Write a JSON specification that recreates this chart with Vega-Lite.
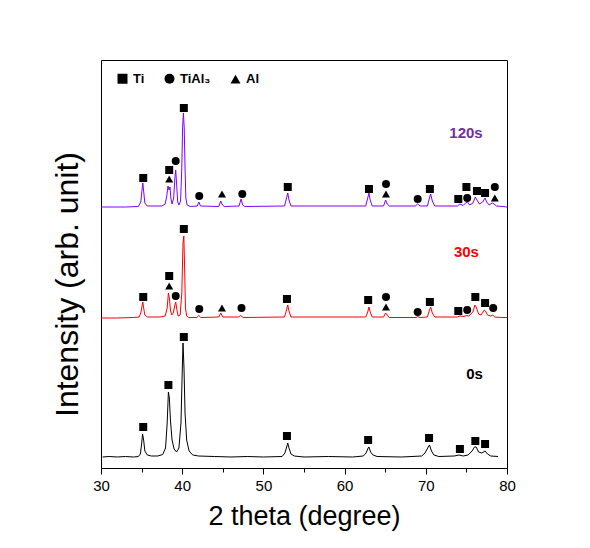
{
  "$schema": "https://vega.github.io/schema/vega-lite/v6.json",
  "width": 406,
  "height": 408,
  "autosize": {"type": "none"},
  "padding": {"left": 101, "top": 60, "right": 83, "bottom": 80},
  "background": "white",
  "config": {
    "font": "Liberation Sans",
    "view": {"stroke": "black", "strokeWidth": 1}
  },
  "datasets": {
    "traces": [
      {"s":"0s","x":30.2,"y":11},{"s":"0s","x":31,"y":11.5},{"s":"0s","x":32,"y":11},{"s":"0s","x":33,"y":11.5},{"s":"0s","x":34,"y":11},{"s":"0s","x":34.6,"y":11.5},{"s":"0s","x":34.85,"y":14},{"s":"0s","x":35.0,"y":24},{"s":"0s","x":35.12,"y":34},{"s":"0s","x":35.25,"y":28},{"s":"0s","x":35.4,"y":17},{"s":"0s","x":35.7,"y":13},{"s":"0s","x":36.2,"y":12},{"s":"0s","x":37,"y":12},{"s":"0s","x":37.6,"y":13.5},{"s":"0s","x":37.95,"y":20},{"s":"0s","x":38.15,"y":45},{"s":"0s","x":38.3,"y":76},{"s":"0s","x":38.42,"y":70},{"s":"0s","x":38.55,"y":48},{"s":"0s","x":38.75,"y":28},{"s":"0s","x":39.0,"y":19},{"s":"0s","x":39.3,"y":16},{"s":"0s","x":39.6,"y":20},{"s":"0s","x":39.85,"y":45},{"s":"0s","x":40.0,"y":95},{"s":"0s","x":40.1,"y":125},{"s":"0s","x":40.22,"y":100},{"s":"0s","x":40.35,"y":55},{"s":"0s","x":40.55,"y":28},{"s":"0s","x":40.85,"y":17},{"s":"0s","x":41.3,"y":13},{"s":"0s","x":42,"y":12},{"s":"0s","x":44,"y":11.5},{"s":"0s","x":46,"y":11},{"s":"0s","x":48,"y":11.5},{"s":"0s","x":50,"y":11},{"s":"0s","x":52.3,"y":11.5},{"s":"0s","x":52.65,"y":15},{"s":"0s","x":52.9,"y":22},{"s":"0s","x":53.0,"y":25},{"s":"0s","x":53.15,"y":20},{"s":"0s","x":53.4,"y":14},{"s":"0s","x":53.8,"y":12},{"s":"0s","x":55,"y":11},{"s":"0s","x":58,"y":11.5},{"s":"0s","x":61,"y":11},{"s":"0s","x":62.3,"y":12},{"s":"0s","x":62.65,"y":15},{"s":"0s","x":62.9,"y":20},{"s":"0s","x":63.0,"y":21},{"s":"0s","x":63.2,"y":16},{"s":"0s","x":63.5,"y":13},{"s":"0s","x":64,"y":11.5},{"s":"0s","x":67,"y":11},{"s":"0s","x":69.5,"y":12},{"s":"0s","x":69.9,"y":15},{"s":"0s","x":70.3,"y":21},{"s":"0s","x":70.45,"y":23},{"s":"0s","x":70.7,"y":17},{"s":"0s","x":71.0,"y":13},{"s":"0s","x":71.6,"y":11.5},{"s":"0s","x":73.5,"y":12},{"s":"0s","x":74.1,"y":13},{"s":"0s","x":74.6,"y":12},{"s":"0s","x":75.2,"y":13},{"s":"0s","x":75.7,"y":17},{"s":"0s","x":76.0,"y":21},{"s":"0s","x":76.2,"y":21},{"s":"0s","x":76.5,"y":16},{"s":"0s","x":76.9,"y":15},{"s":"0s","x":77.3,"y":17},{"s":"0s","x":77.6,"y":14},{"s":"0s","x":78.0,"y":12},{"s":"0s","x":78.9,"y":11.5},
      {"s":"30s","x":30,"y":150},{"s":"30s","x":32,"y":150},{"s":"30s","x":34.0,"y":150.5},{"s":"30s","x":34.7,"y":151},{"s":"30s","x":34.9,"y":155},{"s":"30s","x":35.05,"y":162},{"s":"30s","x":35.15,"y":166},{"s":"30s","x":35.25,"y":160},{"s":"30s","x":35.4,"y":153},{"s":"30s","x":35.7,"y":151},{"s":"30s","x":37.3,"y":151},{"s":"30s","x":37.9,"y":152},{"s":"30s","x":38.15,"y":160},{"s":"30s","x":38.3,"y":175},{"s":"30s","x":38.42,"y":170},{"s":"30s","x":38.55,"y":158},{"s":"30s","x":38.7,"y":153},{"s":"30s","x":38.9,"y":155},{"s":"30s","x":39.1,"y":163},{"s":"30s","x":39.2,"y":166},{"s":"30s","x":39.35,"y":158},{"s":"30s","x":39.5,"y":152},{"s":"30s","x":39.75,"y":153},{"s":"30s","x":39.95,"y":175},{"s":"30s","x":40.1,"y":225},{"s":"30s","x":40.2,"y":232},{"s":"30s","x":40.3,"y":200},{"s":"30s","x":40.4,"y":160},{"s":"30s","x":40.55,"y":152},{"s":"30s","x":40.8,"y":150.5},{"s":"30s","x":41.8,"y":150.5},{"s":"30s","x":42.05,"y":152.5},{"s":"30s","x":42.3,"y":150.5},{"s":"30s","x":44.5,"y":151},{"s":"30s","x":44.75,"y":155},{"s":"30s","x":45.0,"y":151},{"s":"30s","x":46.9,"y":151},{"s":"30s","x":47.2,"y":152.5},{"s":"30s","x":47.5,"y":150.5},{"s":"30s","x":52.6,"y":151},{"s":"30s","x":52.85,"y":158},{"s":"30s","x":53.0,"y":163},{"s":"30s","x":53.15,"y":157},{"s":"30s","x":53.4,"y":151},{"s":"30s","x":62.6,"y":151},{"s":"30s","x":62.85,"y":156},{"s":"30s","x":63.0,"y":161},{"s":"30s","x":63.15,"y":156},{"s":"30s","x":63.4,"y":151},{"s":"30s","x":64.8,"y":151},{"s":"30s","x":65.05,"y":155},{"s":"30s","x":65.25,"y":153},{"s":"30s","x":65.5,"y":150.5},{"s":"30s","x":68.8,"y":150.5},{"s":"30s","x":69.0,"y":151.5},{"s":"30s","x":69.3,"y":150.5},{"s":"30s","x":70.2,"y":151},{"s":"30s","x":70.45,"y":158},{"s":"30s","x":70.6,"y":161},{"s":"30s","x":70.8,"y":155},{"s":"30s","x":71.1,"y":151},{"s":"30s","x":73.9,"y":151},{"s":"30s","x":74.2,"y":152},{"s":"30s","x":74.7,"y":151.5},{"s":"30s","x":75.0,"y":152.5},{"s":"30s","x":75.3,"y":152},{"s":"30s","x":75.8,"y":156},{"s":"30s","x":76.05,"y":163},{"s":"30s","x":76.2,"y":161},{"s":"30s","x":76.5,"y":154},{"s":"30s","x":76.8,"y":153},{"s":"30s","x":77.2,"y":158},{"s":"30s","x":77.35,"y":157},{"s":"30s","x":77.6,"y":153},{"s":"30s","x":78.0,"y":152},{"s":"30s","x":78.25,"y":153},{"s":"30s","x":78.5,"y":151},{"s":"30s","x":79.2,"y":150.5},{"s":"30s","x":80,"y":150.5},
      {"s":"120s","x":30,"y":261},{"s":"120s","x":33,"y":261},{"s":"120s","x":34.6,"y":261.5},{"s":"120s","x":34.9,"y":266},{"s":"120s","x":35.05,"y":278},{"s":"120s","x":35.15,"y":285},{"s":"120s","x":35.25,"y":277},{"s":"120s","x":35.4,"y":265},{"s":"120s","x":35.7,"y":262},{"s":"120s","x":37.5,"y":262},{"s":"120s","x":37.9,"y":264},{"s":"120s","x":38.1,"y":272},{"s":"120s","x":38.25,"y":282},{"s":"120s","x":38.38,"y":278},{"s":"120s","x":38.5,"y":281},{"s":"120s","x":38.6,"y":270},{"s":"120s","x":38.75,"y":264},{"s":"120s","x":38.95,"y":270},{"s":"120s","x":39.1,"y":290},{"s":"120s","x":39.2,"y":298},{"s":"120s","x":39.3,"y":285},{"s":"120s","x":39.45,"y":266},{"s":"120s","x":39.6,"y":263},{"s":"120s","x":39.8,"y":267},{"s":"120s","x":39.95,"y":300},{"s":"120s","x":40.05,"y":340},{"s":"120s","x":40.15,"y":355},{"s":"120s","x":40.25,"y":340},{"s":"120s","x":40.35,"y":300},{"s":"120s","x":40.45,"y":270},{"s":"120s","x":40.6,"y":263},{"s":"120s","x":41.0,"y":261.5},{"s":"120s","x":41.85,"y":262},{"s":"120s","x":42.05,"y":266},{"s":"120s","x":42.25,"y":262},{"s":"120s","x":44.5,"y":261.5},{"s":"120s","x":44.75,"y":267},{"s":"120s","x":44.95,"y":263},{"s":"120s","x":45.2,"y":261.5},{"s":"120s","x":47.0,"y":262},{"s":"120s","x":47.25,"y":269},{"s":"120s","x":47.45,"y":263},{"s":"120s","x":47.7,"y":261.5},{"s":"120s","x":52.6,"y":262},{"s":"120s","x":52.85,"y":270},{"s":"120s","x":53.0,"y":275},{"s":"120s","x":53.15,"y":268},{"s":"120s","x":53.4,"y":262},{"s":"120s","x":62.6,"y":262},{"s":"120s","x":62.85,"y":270},{"s":"120s","x":63.0,"y":275},{"s":"120s","x":63.15,"y":268},{"s":"120s","x":63.4,"y":262},{"s":"120s","x":64.8,"y":262},{"s":"120s","x":65.05,"y":268},{"s":"120s","x":65.25,"y":264},{"s":"120s","x":65.5,"y":262},{"s":"120s","x":68.7,"y":262},{"s":"120s","x":69.0,"y":264},{"s":"120s","x":69.3,"y":262},{"s":"120s","x":70.2,"y":262},{"s":"120s","x":70.45,"y":270},{"s":"120s","x":70.6,"y":274},{"s":"120s","x":70.8,"y":267},{"s":"120s","x":71.1,"y":262},{"s":"120s","x":73.9,"y":262},{"s":"120s","x":74.2,"y":264},{"s":"120s","x":74.6,"y":262.5},{"s":"120s","x":74.9,"y":265},{"s":"120s","x":75.15,"y":266},{"s":"120s","x":75.4,"y":263},{"s":"120s","x":75.8,"y":265},{"s":"120s","x":76.1,"y":271},{"s":"120s","x":76.3,"y":268},{"s":"120s","x":76.6,"y":264},{"s":"120s","x":77.0,"y":266},{"s":"120s","x":77.3,"y":270},{"s":"120s","x":77.5,"y":266},{"s":"120s","x":77.8,"y":263},{"s":"120s","x":78.2,"y":265},{"s":"120s","x":78.4,"y":264},{"s":"120s","x":78.7,"y":262},{"s":"120s","x":79.5,"y":261.5},{"s":"120s","x":80,"y":261}
    ],
    "markers": [
      {"phase":"Ti","x":35.2,"y":290},{"phase":"Ti","x":38.4,"y":298},{"phase":"Al","x":38.4,"y":289},{"phase":"TiAl₃","x":39.2,"y":307},{"phase":"Ti","x":40.2,"y":360},{"phase":"TiAl₃","x":42.1,"y":272},{"phase":"Al","x":44.9,"y":274},{"phase":"TiAl₃","x":47.4,"y":274},{"phase":"Ti","x":53.0,"y":281},{"phase":"Ti","x":63.0,"y":279},{"phase":"TiAl₃","x":65.1,"y":284},{"phase":"Al","x":65.1,"y":274},{"phase":"TiAl₃","x":69.0,"y":269},{"phase":"Ti","x":70.5,"y":279},{"phase":"Ti","x":74.0,"y":269},{"phase":"TiAl₃","x":75.1,"y":270},{"phase":"Ti","x":75.0,"y":281},{"phase":"Ti","x":76.3,"y":277},{"phase":"Ti","x":77.3,"y":275},{"phase":"TiAl₃","x":78.5,"y":281},{"phase":"Al","x":78.5,"y":270},
      {"phase":"Ti","x":35.2,"y":171},{"phase":"Ti","x":38.4,"y":192},{"phase":"Al","x":38.4,"y":182},{"phase":"TiAl₃","x":39.2,"y":172},{"phase":"Ti","x":40.2,"y":239},{"phase":"TiAl₃","x":42.1,"y":159},{"phase":"Al","x":44.9,"y":160},{"phase":"TiAl₃","x":47.3,"y":160},{"phase":"Ti","x":52.9,"y":169},{"phase":"Ti","x":62.9,"y":168},{"phase":"TiAl₃","x":65.1,"y":171},{"phase":"Al","x":65.1,"y":161},{"phase":"TiAl₃","x":69.0,"y":156},{"phase":"Ti","x":70.5,"y":166},{"phase":"Ti","x":74.0,"y":157},{"phase":"TiAl₃","x":75.1,"y":158},{"phase":"Ti","x":76.1,"y":171},{"phase":"Ti","x":77.3,"y":165},{"phase":"TiAl₃","x":78.3,"y":160},
      {"phase":"Ti","x":35.2,"y":41},{"phase":"Ti","x":38.3,"y":83},{"phase":"Ti","x":40.2,"y":131},{"phase":"Ti","x":52.9,"y":32},{"phase":"Ti","x":62.9,"y":28},{"phase":"Ti","x":70.4,"y":30},{"phase":"Ti","x":74.2,"y":19},{"phase":"Ti","x":76.1,"y":27},{"phase":"Ti","x":77.3,"y":24}
    ],
    "labels": [
      {"s":"120s","x":74.95,"y":335},
      {"s":"30s","x":75.0,"y":216},
      {"s":"0s","x":76.0,"y":94}
    ]
  },
  "layer": [
    {
      "data": {"name": "traces"},
      "mark": {"type": "line", "strokeWidth": 1, "clip": true},
      "encoding": {
        "x": {
          "field": "x", "type": "quantitative",
          "scale": {"domain": [30, 80], "nice": false, "zero": false},
          "axis": {
            "title": "2 theta (degree)",
            "values": [30, 35, 40, 45, 50, 55, 60, 65, 70, 75, 80],
            "labelExpr": "datum.value % 10 === 0 ? datum.label : ''",
            "labelFlush": false,
            "labelOverlap": false,
            "tickSize": {"expr": "datum.value % 10 === 0 ? 6 : 4"},
            "tickColor": "black",
            "domainColor": "black",
            "grid": false,
            "labelFontSize": 15,
            "labelColor": "black",
            "labelPadding": 4,
            "titleFontSize": 27,
            "titleFontWeight": "normal",
            "titleColor": "black",
            "titlePadding": 10
          }
        },
        "y": {
          "field": "y", "type": "quantitative",
          "scale": {"domain": [0, 408], "nice": false, "zero": false},
          "axis": {
            "title": "Intensity (arb. unit)",
            "labels": false, "ticks": false, "domain": false, "grid": false,
            "titleFontSize": 32,
            "titleFontWeight": "normal",
            "titleColor": "black",
            "titleX": -24,
            "titleY": 224,
            "titleAlign": "center",
            "titleBaseline": "alphabetic",
            "titleAngle": -90
          }
        },
        "color": {
          "field": "s", "type": "nominal",
          "scale": {"domain": ["0s", "30s", "120s"], "range": ["#000000", "#ff0000", "#8000ff"]},
          "legend": null
        },
        "detail": {"field": "s"}
      }
    },
    {
      "data": {"name": "markers"},
      "mark": {"type": "point", "filled": true, "color": "black", "opacity": 1, "size": 64},
      "encoding": {
        "x": {"field": "x", "type": "quantitative"},
        "y": {"field": "y", "type": "quantitative"},
        "shape": {
          "field": "phase", "type": "nominal",
          "scale": {"domain": ["Ti", "TiAl₃", "Al"], "range": ["square", "circle", "triangle-up"]},
          "legend": {
            "title": null,
            "orient": "none",
            "legendX": 15,
            "legendY": 12,
            "direction": "horizontal",
            "padding": 0,
            "symbolSize": 100,
            "symbolFillColor": "black",
            "symbolStrokeColor": "black",
            "symbolOpacity": 1,
            "labelFontSize": 13,
            "labelFontWeight": "bold",
            "labelColor": "black",
            "labelOffset": 4,
            "columnPadding": 16
          }
        }
      }
    },
    {
      "data": {"name": "labels"},
      "mark": {"type": "text", "fontSize": 15, "fontWeight": "bold", "align": "center", "baseline": "middle"},
      "encoding": {
        "x": {"field": "x", "type": "quantitative"},
        "y": {"field": "y", "type": "quantitative"},
        "text": {"field": "s"},
        "color": {
          "field": "s", "type": "nominal",
          "scale": {"domain": ["0s", "30s", "120s"], "range": ["#000000", "#ff0000", "#7030a0"]},
          "legend": null
        }
      }
    }
  ],
  "resolve": {"scale": {"color": "independent"}}
}
